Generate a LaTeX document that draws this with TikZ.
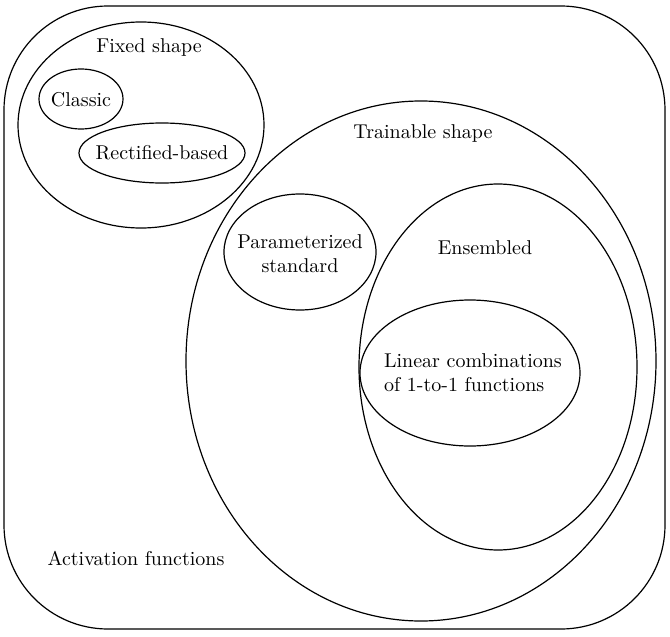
\documentclass[tikz,border=0pt]{standalone}
\usepackage{tikz}
\usetikzlibrary{positioning}

\begin{document}
\begin{tikzpicture}[x=0.5pt,y=-0.5pt,line width=0.6pt]
    \useasboundingbox (0,0) rectangle (670,637);
    \draw[rounded corners=52pt] (4,6) rectangle (665,629);
    % fixed shape
    \draw (141,125) ellipse [x radius=61.5pt, y radius=51.5pt];
    \draw (81,99) ellipse [x radius=21pt, y radius=15pt];
    \draw (162,153) ellipse [x radius=41.5pt, y radius=15pt];
    % trainable shape
    \draw (421,361) ellipse [x radius=117.5pt, y radius=130pt];
    \draw (300,252) ellipse [x radius=38pt, y radius=29pt];
    \draw (498,367) ellipse [x radius=69.5pt, y radius=91.5pt];
    \draw (470,373) ellipse [x radius=55pt, y radius=36.5pt];

    \node (fixed) at (149,48) {Fixed shape};
    \node (classic) at (81,100) {Classic};
    \node (rect) at (162,153) {Rectified-based};
    \node (train) at (423,133) {Trainable shape};
    \node[align=center] (param) at (300,254) {Parameterized\\standard};
    \node (ens) at (485,248) {Ensembled};
    \node[align=left] (lin) at (473,373) {Linear combinations\\of 1-to-1 functions};
    \node (act) at (136,558) {Activation functions};
\end{tikzpicture}
\end{document}
